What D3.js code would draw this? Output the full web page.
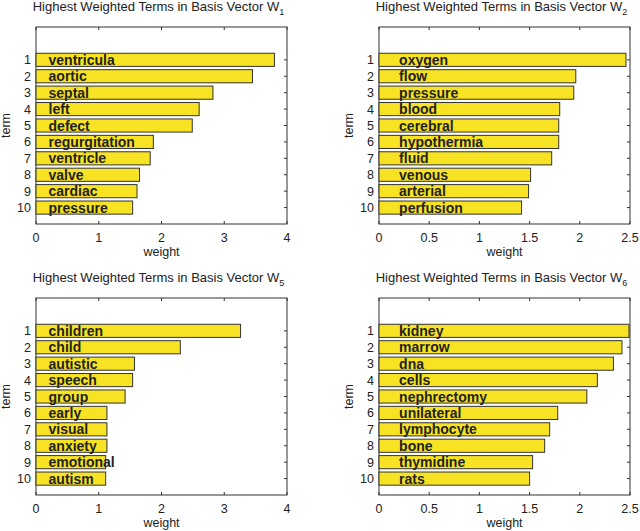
<!DOCTYPE html>
<html>
<head>
<meta charset="utf-8">
<script src="https://cdn.jsdelivr.net/npm/d3@7"></script>
<style>
  body { margin: 0; background: #fff; }
  text { font-family: "Liberation Sans", Arial, sans-serif; fill: #222; }
</style>
</head>
<body>
<svg id="chart" width="640" height="531"></svg>
<script>
// data
const subscripts = ["1", "2", "5", "6"];
const terms1 = ["ventricula", "aortic", "septal", "left", "defect", "regurgitation", "ventricle", "valve", "cardiac", "pressure"];
const weights1 = [3.80, 3.45, 2.82, 2.60, 2.49, 1.87, 1.82, 1.65, 1.61, 1.54];
const terms2 = ["oxygen", "flow", "pressure", "blood", "cerebral", "hypothermia", "fluid", "venous", "arterial", "perfusion"];
const weights2 = [2.46, 1.96, 1.94, 1.80, 1.79, 1.79, 1.72, 1.51, 1.49, 1.42];
const terms5 = ["children", "child", "autistic", "speech", "group", "early", "visual", "anxiety", "emotional", "autism"];
const weights5 = [3.26, 2.30, 1.57, 1.54, 1.42, 1.13, 1.13, 1.13, 1.11, 1.11];
const terms6 = ["kidney", "marrow", "dna", "cells", "nephrectomy", "unilateral", "lymphocyte", "bone", "thymidine", "rats"];
const weights6 = [2.49, 2.42, 2.335, 2.175, 2.07, 1.78, 1.70, 1.65, 1.53, 1.50];
const xTicks1 = [0, 1, 2, 3, 4];
const xTicks2 = [0, 0.5, 1, 1.5, 2, 2.5];
const yTicks = [1, 2, 3, 4, 5, 6, 7, 8, 9, 10];

const svg = d3.select("#chart");

function panel(left, right, top, bottom, terms, weights, xTicks, sub) {
  var g = svg.append("g");
  var x = d3.scaleLinear().domain([0, xTicks[xTicks.length - 1]]).range([left, right]);
  var y = d3.scaleLinear().domain([-1, 11]).range([top, bottom]);
  var bh = (y(1) - y(0)) * 0.8;

  // axes box
  g.append("rect").attr("x", left).attr("y", top)
    .attr("width", right - left).attr("height", bottom - top)
    .attr("fill", "#fff").attr("stroke", "#333").attr("stroke-width", 1);

  // inward ticks (MATLAB style)
  g.selectAll(".xt").data(xTicks).enter().append("line")
    .attr("x1", d => x(d)).attr("x2", d => x(d))
    .attr("y1", top).attr("y2", top + 3).attr("stroke", "#333");
  g.selectAll(".xb").data(xTicks).enter().append("line")
    .attr("x1", d => x(d)).attr("x2", d => x(d))
    .attr("y1", bottom).attr("y2", bottom - 3).attr("stroke", "#333");
  g.selectAll(".yr").data(yTicks).enter().append("line")
    .attr("x1", right).attr("x2", right - 3)
    .attr("y1", d => y(d)).attr("y2", d => y(d)).attr("stroke", "#333");

  // bars
  g.selectAll(".bar").data(weights).enter().append("rect")
    .attr("x", x(0)).attr("y", (d, i) => y(i + 1) - bh / 2)
    .attr("width", d => x(d) - x(0)).attr("height", bh)
    .attr("fill", "#f7e324").attr("stroke", "#333").attr("stroke-width", 1);

  // term labels
  g.selectAll(".lab").data(terms).enter().append("text")
    .attr("x", x(0.2)).attr("y", (d, i) => y(i + 1) + 5)
    .attr("font-size", 14).attr("font-weight", "bold")
    .text(d => d);

  // tick labels
  g.selectAll(".yl").data(yTicks).enter().append("text")
    .attr("x", left - 5).attr("y", d => y(d) + 4.5)
    .attr("text-anchor", "end").attr("font-size", 12.5).text(d => d);
  g.selectAll(".xl").data(xTicks).enter().append("text")
    .attr("x", d => x(d)).attr("y", bottom + 18)
    .attr("text-anchor", "middle").attr("font-size", 12.5).text(d => d);

  // axis titles
  g.append("text").attr("x", (left + right) / 2).attr("y", bottom + 32)
    .attr("text-anchor", "middle").attr("font-size", 12.5).text("weight");
  g.append("text")
    .attr("transform", "translate(" + (left - 26) + "," + ((top + bottom) / 2) + ") rotate(-90)")
    .attr("text-anchor", "middle").attr("font-size", 12.5).text("term");

  var t = g.append("text").attr("x", (left + right) / 2 - 3).attr("y", top - 16)
    .attr("text-anchor", "middle").attr("font-size", 13);
  t.append("tspan").text("Highest Weighted Terms in Basis Vector W");
  t.append("tspan").attr("dy", 4).attr("font-size", 9).text(sub);
}

panel(36, 287, 27, 224, terms1, weights1, xTicks1, subscripts[0]);
panel(379, 630, 27, 224, terms2, weights2, xTicks2, subscripts[1]);
panel(36, 287, 298, 495, terms5, weights5, xTicks1, subscripts[2]);
panel(379, 630, 298, 495, terms6, weights6, xTicks2, subscripts[3]);
</script>
</body>
</html>
